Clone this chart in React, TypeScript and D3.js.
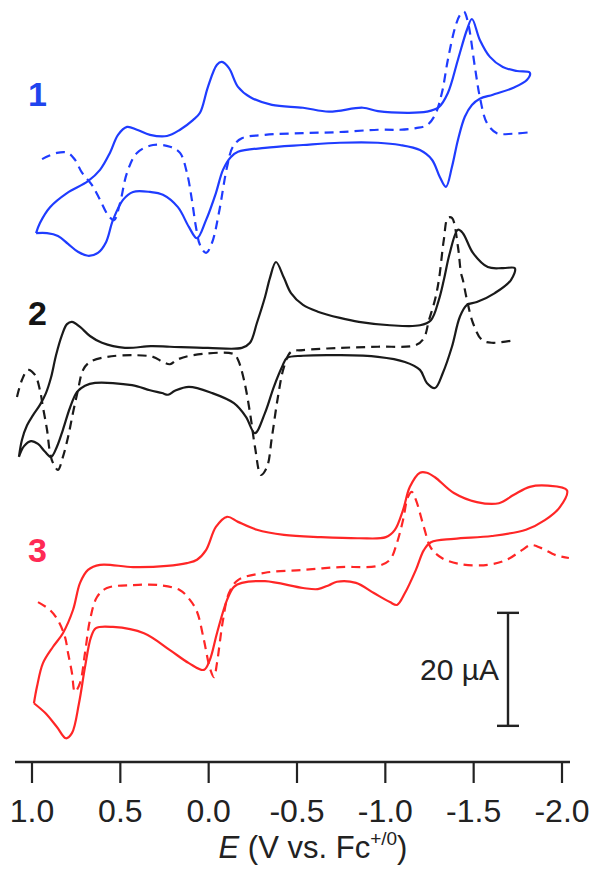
import React, { useEffect } from "react";
import * as d3 from "d3";

// Potential E (V vs Fc+/0) and current (µA, stacked with vertical offsets)
const cv1: [number, number][] = [
  [0.977, 93.6], [0.955, 95.4], [0.898, 98.2], [0.802, 100.7], [0.683, 102.8], [0.615, 104.8],
  [0.559, 107.8], [0.513, 111.0], [0.462, 112.4], [0.406, 111.9], [0.332, 111.0], [0.236, 110.8],
  [0.162, 111.9], [0.089, 113.6], [0.049, 114.9], [0.004, 119.5], [-0.047, 123.4], [-0.075, 123.9],
  [-0.115, 122.8], [-0.166, 119.5], [-0.234, 117.7], [-0.358, 116.3], [-0.534, 115.8], [-0.681, 115.1],
  [-0.873, 115.8], [-0.958, 115.2], [-1.128, 114.9], [-1.235, 115.1], [-1.303, 115.9], [-1.354, 118.4],
  [-1.411, 124.3], [-1.462, 129.6], [-1.49, 131.5], [-1.535, 127.8], [-1.592, 124.8], [-1.665, 123.0],
  [-1.745, 122.3], [-1.818, 122.0], [-1.801, 120.7], [-1.722, 119.3], [-1.609, 118.1], [-1.535, 117.4],
  [-1.49, 116.3], [-1.45, 114.2], [-1.411, 110.1], [-1.377, 105.3], [-1.343, 101.8], [-1.309, 103.5],
  [-1.264, 106.6], [-1.196, 108.3], [-1.083, 109.2], [-0.958, 109.6], [-0.743, 109.6], [-0.534, 109.2],
  [-0.319, 108.7], [-0.166, 108.0], [-0.126, 107.1], [-0.081, 104.8], [-0.041, 100.7], [0.015, 95.9],
  [0.066, 92.7], [0.112, 94.7], [0.174, 98.2], [0.259, 100.4], [0.332, 100.9], [0.428, 100.9],
  [0.485, 99.5], [0.542, 95.9], [0.581, 92.0], [0.627, 90.1], [0.683, 89.6], [0.74, 90.3],
  [0.796, 91.7], [0.853, 93.1], [0.915, 93.6], [0.977, 93.6],
];
const dpv1: [number, number][] = [
  [0.943, 106.7], [0.859, 107.8], [0.796, 107.8], [0.757, 106.6], [0.717, 104.3], [0.66, 102.1],
  [0.615, 99.5], [0.57, 96.8], [0.536, 95.9], [0.502, 98.9], [0.462, 104.3], [0.406, 107.8],
  [0.315, 109.2], [0.219, 108.9], [0.162, 107.8], [0.123, 104.3], [0.095, 99.5], [0.072, 94.7],
  [0.049, 91.5], [0.015, 90.1], [-0.019, 91.9], [-0.058, 97.2], [-0.104, 105.3], [-0.137, 108.9],
  [-0.188, 110.4], [-0.319, 111.0], [-0.534, 111.3], [-0.743, 111.5], [-0.958, 111.9], [-1.083, 111.9],
  [-1.173, 112.2], [-1.235, 112.7], [-1.281, 114.5], [-1.32, 118.4], [-1.354, 124.3], [-1.394, 129.9],
  [-1.422, 132.2], [-1.445, 132.8], [-1.467, 131.0], [-1.507, 123.0], [-1.535, 117.7], [-1.575, 113.1],
  [-1.631, 111.3], [-1.722, 111.2], [-1.83, 111.5],
];
const cv2: [number, number][] = [
  [1.074, 54.0], [1.057, 57.0], [1.028, 59.6], [0.994, 61.4], [0.955, 63.2], [0.921, 65.3],
  [0.892, 68.1], [0.864, 72.0], [0.83, 75.6], [0.802, 77.5], [0.774, 77.9], [0.728, 77.0],
  [0.672, 75.4], [0.604, 74.2], [0.474, 73.3], [0.327, 73.6], [0.219, 73.5], [0.004, 73.3],
  [-0.188, 73.3], [-0.234, 74.2], [-0.273, 77.7], [-0.319, 82.3], [-0.347, 85.7], [-0.381, 88.5],
  [-0.426, 85.7], [-0.466, 83.0], [-0.534, 80.9], [-0.618, 79.7], [-0.743, 78.6], [-0.85, 77.9],
  [-1.026, 77.3], [-1.196, 77.3], [-1.258, 78.2], [-1.303, 81.8], [-1.331, 85.3], [-1.365, 90.1],
  [-1.411, 94.2], [-1.439, 93.6], [-1.496, 90.1], [-1.58, 87.6], [-1.665, 87.4], [-1.733, 87.4],
  [-1.711, 85.3], [-1.62, 83.0], [-1.518, 81.4], [-1.462, 80.9], [-1.422, 78.8], [-1.377, 73.5],
  [-1.326, 68.9], [-1.281, 66.2], [-1.235, 67.1], [-1.196, 69.4], [-1.111, 70.8], [-0.958, 71.7],
  [-0.743, 72.0], [-0.534, 71.9], [-0.443, 71.5], [-0.415, 69.9], [-0.369, 66.4], [-0.319, 61.8],
  [-0.262, 58.2], [-0.211, 61.1], [-0.143, 63.5], [-0.019, 65.3], [0.112, 66.4], [0.191, 65.7],
  [0.23, 65.0], [0.264, 65.3], [0.332, 65.8], [0.434, 66.7], [0.643, 67.1], [0.7, 66.6],
  [0.745, 65.5], [0.785, 62.7], [0.825, 58.8], [0.859, 55.8], [0.892, 54.0], [0.926, 54.9],
  [0.966, 56.3], [1.006, 56.8], [1.045, 55.9], [1.074, 54.0],
];
const dpv2: [number, number][] = [
  [1.085, 64.6], [1.057, 67.6], [1.023, 69.4], [0.983, 68.5], [0.955, 65.8], [0.938, 62.8],
  [0.915, 58.8], [0.898, 54.7], [0.881, 52.9], [0.853, 51.7], [0.825, 54.0], [0.796, 57.5],
  [0.768, 61.8], [0.74, 65.8], [0.711, 69.4], [0.672, 70.8], [0.576, 71.7], [0.428, 72.0],
  [0.315, 71.7], [0.259, 70.8], [0.219, 70.4], [0.179, 71.2], [0.089, 72.0], [-0.143, 72.2],
  [-0.166, 71.2], [-0.2, 67.6], [-0.234, 61.8], [-0.262, 55.8], [-0.296, 50.8], [-0.33, 52.2],
  [-0.358, 57.5], [-0.392, 64.6], [-0.426, 69.9], [-0.466, 72.6], [-0.534, 72.9], [-0.743, 73.3],
  [-0.958, 73.5], [-1.173, 73.8], [-1.218, 75.0], [-1.247, 78.2], [-1.281, 81.8], [-1.303, 85.3],
  [-1.331, 92.4], [-1.354, 96.3], [-1.377, 96.3], [-1.411, 91.2], [-1.428, 86.6], [-1.439, 85.3],
  [-1.462, 81.8], [-1.496, 77.7], [-1.547, 74.7], [-1.603, 74.2], [-1.739, 74.7],
];
const cv3: [number, number][] = [
  [0.989, 10.4], [0.972, 13.3], [0.938, 17.5], [0.881, 20.4], [0.825, 22.8], [0.768, 26.9],
  [0.728, 31.7], [0.683, 34.0], [0.615, 34.9], [0.428, 34.5], [0.236, 34.7], [0.123, 35.2],
  [0.066, 35.8], [0.015, 37.5], [-0.041, 41.6], [-0.104, 43.4], [-0.166, 42.5], [-0.273, 41.1],
  [-0.426, 40.2], [-0.635, 39.8], [-0.85, 39.6], [-1.003, 39.8], [-1.054, 41.1], [-1.1, 44.6],
  [-1.139, 48.7], [-1.196, 51.2], [-1.235, 51.2], [-1.281, 50.4], [-1.388, 47.6], [-1.518, 46.0],
  [-1.643, 45.8], [-1.728, 47.3], [-1.818, 48.7], [-1.92, 48.9], [-2.028, 48.1], [-1.988, 45.1],
  [-1.903, 42.8], [-1.796, 41.1], [-1.603, 40.0], [-1.388, 39.5], [-1.258, 38.9], [-1.218, 37.5],
  [-1.173, 34.0], [-1.111, 29.9], [-1.066, 27.8], [-1.026, 28.3], [-0.935, 29.9], [-0.834, 31.7],
  [-0.726, 31.9], [-0.681, 31.3], [-0.618, 30.6], [-0.534, 30.8], [-0.319, 32.0], [-0.188, 31.7],
  [-0.143, 31.0], [-0.104, 28.7], [-0.047, 22.8], [-0.007, 18.1], [0.027, 16.3], [0.112, 17.5],
  [0.219, 19.8], [0.366, 22.8], [0.542, 23.9], [0.638, 23.7], [0.666, 22.1], [0.7, 16.8],
  [0.734, 10.4], [0.774, 5.1], [0.808, 4.2], [0.859, 6.2], [0.926, 8.7], [0.989, 10.4],
];
const dpv3: [number, number][] = [
  [0.966, 28.3], [0.898, 26.9], [0.853, 25.1], [0.813, 22.1], [0.796, 19.3], [0.774, 15.8],
  [0.757, 12.4], [0.728, 14.0], [0.7, 19.3], [0.672, 25.1], [0.632, 29.2], [0.576, 30.8],
  [0.428, 31.3], [0.276, 31.3], [0.162, 30.4], [0.106, 28.7], [0.066, 26.6], [0.027, 21.6],
  [-0.007, 16.6], [-0.03, 15.0], [-0.047, 17.5], [-0.081, 25.1], [-0.115, 29.9], [-0.166, 32.2],
  [-0.319, 33.5], [-0.534, 34.0], [-0.743, 34.5], [-0.958, 34.7], [-1.026, 35.8], [-1.066, 38.8],
  [-1.1, 42.8], [-1.128, 46.9], [-1.15, 47.8], [-1.173, 46.4], [-1.218, 41.6], [-1.258, 37.9],
  [-1.32, 36.1], [-1.428, 35.0], [-1.58, 34.9], [-1.688, 35.8], [-1.773, 37.5], [-1.824, 38.4],
  [-1.88, 37.9], [-1.965, 36.6], [-2.039, 36.1],
];

const xTicks = [1.0, 0.5, 0.0, -0.5, -1.0, -1.5, -2.0];
const compoundLabels = ["1", "2", "3"];
const labelCurrents = [116.1, 77.3, 35.4]; // label baselines in µA units
const scaleBarRange = [6.4, 26.4]; // 20 µA

const BLUE = "#1f3cff";
const BLACK = "#1a1a1a";
const RED = "#ff2626";
const labelColors = ["#1f44ee", "#141414", "#ff2a55"];

export default function App() {
  useEffect(() => {
    document.body.style.margin = "0";
  }, []);

  const W = 590;
  const H = 871;
  const x = d3.scaleLinear().domain([1.0, -2.0]).range([32, 562]);
  const y = d3.scaleLinear().domain([0, 20]).range([762, 649]);
  const line = d3
    .line<[number, number]>()
    .x((d) => x(d[0]))
    .y((d) => y(d[1]))
    .curve(d3.curveCatmullRom.alpha(0.5));

  const font = "'Liberation Sans', Arial, Helvetica, sans-serif";
  const series = [
    { d: cv1, c: BLUE, dash: false },
    { d: dpv1, c: BLUE, dash: true },
    { d: cv2, c: BLACK, dash: false },
    { d: dpv2, c: BLACK, dash: true },
    { d: cv3, c: RED, dash: false },
    { d: dpv3, c: RED, dash: true },
  ];
  const axisY = y(0);
  const sbX = 508;

  return (
    <svg
      width={W}
      height={H}
      style={{ display: "block", position: "absolute", left: 0, top: 0, background: "#fff" }}
    >
      <rect x={0} y={0} width={W} height={H} fill="#fff" />
      {series.map((s, i) => (
        <path
          key={i}
          d={line(s.d) || ""}
          fill="none"
          stroke={s.c}
          strokeWidth={2.2}
          strokeDasharray={s.dash ? "9,6" : undefined}
          strokeLinejoin="round"
        />
      ))}
      {compoundLabels.map((l, i) => (
        <text
          key={l}
          x={28}
          y={y(labelCurrents[i])}
          fontFamily={font}
          fontWeight="bold"
          fontSize={34}
          fill={labelColors[i]}
        >
          {l}
        </text>
      ))}
      {/* scale bar */}
      <g stroke="#222" strokeWidth={2.4}>
        <line x1={sbX} x2={sbX} y1={y(scaleBarRange[0])} y2={y(scaleBarRange[1])} />
        <line x1={sbX - 11} x2={sbX + 11} y1={y(scaleBarRange[0])} y2={y(scaleBarRange[0])} />
        <line x1={sbX - 11} x2={sbX + 11} y1={y(scaleBarRange[1])} y2={y(scaleBarRange[1])} />
      </g>
      <text
        x={499}
        y={(y(scaleBarRange[0]) + y(scaleBarRange[1])) / 2 + 11}
        textAnchor="end"
        fontFamily={font}
        fontSize={30}
        fill="#222"
      >
        20 µA
      </text>
      {/* x axis */}
      <line x1={15} x2={570} y1={axisY} y2={axisY} stroke="#222" strokeWidth={2.4} />
      {xTicks.map((t) => (
        <g key={t}>
          <line x1={x(t)} x2={x(t)} y1={axisY} y2={axisY + 21} stroke="#222" strokeWidth={2.2} />
          <text
            x={x(t)}
            y={axisY + 60}
            textAnchor="middle"
            fontFamily={font}
            fontSize={32}
            fill="#222"
          >
            {d3.format(".1f")(t).replace("−", "-")}
          </text>
        </g>
      ))}
      <text x={313} y={858} textAnchor="middle" fontFamily={font} fontSize={31} fill="#222">
        <tspan fontStyle="italic">E</tspan>
        <tspan> (V vs. Fc</tspan>
        <tspan fontSize={19} dy={-13}>+/0</tspan>
        <tspan dy={13}>)</tspan>
      </text>
    </svg>
  );
}
